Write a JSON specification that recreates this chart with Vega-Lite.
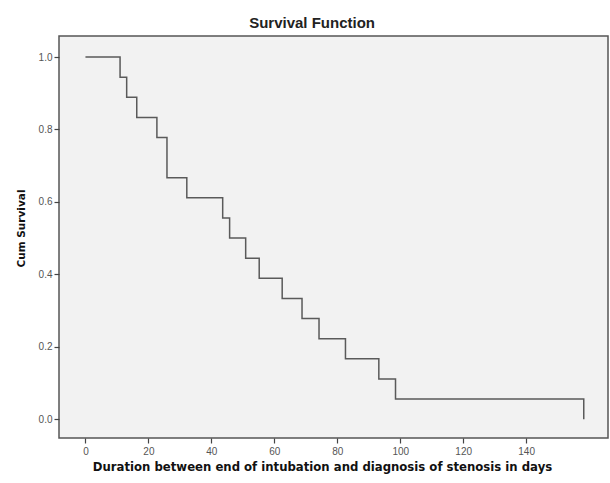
{
  "$schema": "https://vega.github.io/schema/vega-lite/v6.json",
  "width": 549,
  "height": 402,
  "autosize": "none",
  "padding": {"left": 59, "top": 36, "right": 2, "bottom": 45},
  "background": "white",
  "title": {
    "text": "Survival Function",
    "anchor": "middle",
    "frame": "bounds",
    "font": "Liberation Sans",
    "fontSize": 15,
    "fontWeight": "bold",
    "color": "#222222",
    "offset": 5
  },
  "config": {
    "view": {"fill": "#f2f2f2", "stroke": "#555555", "strokeWidth": 1.5},
    "axis": {
      "grid": false,
      "domain": false,
      "tickColor": "#444444",
      "tickSize": 5,
      "tickWidth": 1.2,
      "labelFont": "Liberation Sans",
      "labelFontSize": 10,
      "labelColor": "#555555",
      "titleFont": "DejaVu Sans",
      "titleFontWeight": "bold",
      "titleColor": "#111111"
    }
  },
  "data": {
    "values": [
      {"t": 0, "s": 1.0},
      {"t": 11.0, "s": 0.9444},
      {"t": 13.1, "s": 0.8889},
      {"t": 16.3, "s": 0.8333},
      {"t": 22.7, "s": 0.7778},
      {"t": 25.9, "s": 0.6667},
      {"t": 32.2, "s": 0.6111},
      {"t": 43.6, "s": 0.5556},
      {"t": 45.8, "s": 0.5},
      {"t": 50.9, "s": 0.4444},
      {"t": 55.2, "s": 0.3889},
      {"t": 62.5, "s": 0.3333},
      {"t": 68.8, "s": 0.2778},
      {"t": 74.2, "s": 0.2222},
      {"t": 82.6, "s": 0.1667},
      {"t": 93.2, "s": 0.1111},
      {"t": 98.5, "s": 0.0556},
      {"t": 158.3, "s": 0.0}
    ]
  },
  "mark": {"type": "line", "interpolate": "step-after", "color": "#5a5a5a", "strokeWidth": 1.5},
  "encoding": {
    "x": {
      "field": "t",
      "type": "quantitative",
      "scale": {"domain": [-8.4, 166], "nice": false, "zero": false},
      "axis": {
        "values": [0, 20, 40, 60, 80, 100, 120, 140],
        "title": "Duration between end of intubation and diagnosis of stenosis in days",
        "titleFontSize": 11.7,
        "titleX": 263,
        "titleAlign": "center",
        "titlePadding": 5,
        "labelPadding": 3
      }
    },
    "y": {
      "field": "s",
      "type": "quantitative",
      "scale": {"domain": [-0.052, 1.058], "nice": false, "zero": false},
      "axis": {
        "values": [0, 0.2, 0.4, 0.6, 0.8, 1.0],
        "format": ".1f",
        "title": "Cum Survival",
        "titleFontSize": 10.5,
        "titleY": 192,
        "titleAlign": "center",
        "titlePadding": 12,
        "labelPadding": 2
      }
    }
  }
}
